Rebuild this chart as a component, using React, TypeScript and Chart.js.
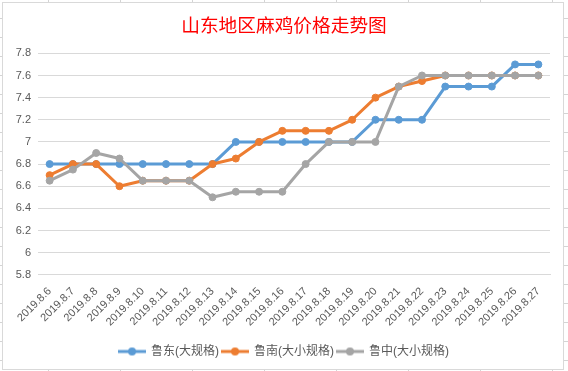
import React, { useEffect, useRef } from 'react';
import { Chart, registerables } from 'chart.js';

Chart.register(...registerables);

const chartTitle = '山东地区麻鸡价格走势图';
const dates = [
  '2019.8.6', '2019.8.7', '2019.8.8', '2019.8.9', '2019.8.10', '2019.8.11',
  '2019.8.12', '2019.8.13', '2019.8.14', '2019.8.15', '2019.8.16', '2019.8.17',
  '2019.8.18', '2019.8.19', '2019.8.20', '2019.8.21', '2019.8.22', '2019.8.23',
  '2019.8.24', '2019.8.25', '2019.8.26', '2019.8.27',
];
const seriesNames = ['鲁东(大规格)', '鲁南(大小规格)', '鲁中(大小规格)'];
const ludong = [6.8, 6.8, 6.8, 6.8, 6.8, 6.8, 6.8, 6.8, 7.0, 7.0, 7.0, 7.0, 7.0, 7.0, 7.2, 7.2, 7.2, 7.5, 7.5, 7.5, 7.7, 7.7];
const lunan = [6.7, 6.8, 6.8, 6.6, 6.65, 6.65, 6.65, 6.8, 6.85, 7.0, 7.1, 7.1, 7.1, 7.2, 7.4, 7.5, 7.55, 7.6, 7.6, 7.6, 7.6, 7.6];
const luzhong = [6.65, 6.75, 6.9, 6.85, 6.65, 6.65, 6.65, 6.5, 6.55, 6.55, 6.55, 6.8, 7.0, 7.0, 7.0, 7.5, 7.6, 7.6, 7.6, 7.6, 7.6, 7.6];
const yTickValues = [5.8, 6, 6.2, 6.4, 6.6, 6.8, 7, 7.2, 7.4, 7.6, 7.8];
const yTickLabels = ['5.8', '6', '6.2', '6.4', '6.6', '6.8', '7', '7.2', '7.4', '7.6', '7.8'];

const seriesColors = ['#5B9BD5', '#ED7D31', '#A5A5A5'];
const LATIN = "'Liberation Sans', 'Noto Sans CJK SC', sans-serif";
const CJK = "'Noto Sans CJK SC', 'Liberation Sans', sans-serif";
const TEXT = '#595959';

function legendImage(color: string): HTMLCanvasElement {
  const c = document.createElement('canvas');
  c.width = 28;
  c.height = 10;
  const ctx = c.getContext('2d')!;
  ctx.strokeStyle = color;
  ctx.lineWidth = 3;
  ctx.lineCap = 'butt';
  ctx.beginPath();
  ctx.moveTo(0, 5);
  ctx.lineTo(28, 5);
  ctx.stroke();
  ctx.fillStyle = color;
  ctx.beginPath();
  ctx.arc(14, 5, 4, 0, Math.PI * 2);
  ctx.fill();
  return c;
}

export default function App() {
  const ref = useRef<HTMLCanvasElement | null>(null);

  useEffect(() => {
    document.body.style.margin = '0';
    if (!ref.current) return;
    const values = [ludong, lunan, luzhong];
    const images = seriesColors.map(legendImage);
    const chart = new Chart(ref.current, {
      type: 'line',
      data: {
        labels: dates,
        datasets: values.map((v, i) => ({
          label: seriesNames[i],
          data: v,
          borderColor: seriesColors[i],
          backgroundColor: seriesColors[i],
          borderWidth: 3,
          pointRadius: 3.5,
          pointBorderWidth: 1,
          pointBackgroundColor: seriesColors[i],
          pointBorderColor: seriesColors[i],
          borderJoinStyle: 'round' as const,
          borderCapStyle: 'round' as const,
          tension: 0,
          order: 2 - i,
        })),
      },
      options: {
        responsive: false,
        animation: false,
        devicePixelRatio: 1,
        layout: { padding: { left: 0, right: 0, top: 0, bottom: 3.5 } },
        plugins: {
          title: {
            display: true,
            text: chartTitle,
            color: '#FF0000',
            font: { family: CJK, size: 18.7, weight: 'normal' },
            padding: { top: 13.4, bottom: 17.5 },
          },
          legend: {
            position: 'bottom',
            labels: {
              usePointStyle: true,
              pointStyleWidth: 26,
              padding: 3,
              color: TEXT,
              font: { family: LATIN, size: 12 },
              generateLabels: (c: any) =>
                c.data.datasets.map((ds: any, i: number) => ({
                  text: ds.label,
                  pointStyle: images[i],
                  fillStyle: seriesColors[i],
                  strokeStyle: seriesColors[i],
                  lineWidth: 0,
                  hidden: false,
                  datasetIndex: i,
                  fontColor: TEXT,
                })),
            },
          },
          tooltip: { enabled: false },
        },
        scales: {
          x: {
            offset: true,
            grid: { display: false, drawTicks: false },
            border: { display: true, color: '#D9D9D9' },
            ticks: {
              autoSkip: false,
              minRotation: 45,
              maxRotation: 45,
              padding: 10,
              color: TEXT,
              font: { family: LATIN, size: 11 },
            },
            afterFit: (s: any) => {
              s.height = 67.7;
            },
          },
          y: {
            min: 5.8,
            max: 7.8,
            afterBuildTicks: (s: any) => {
              s.ticks = yTickValues.map((v) => ({ value: v }));
            },
            grid: { color: '#D9D9D9', drawTicks: false },
            border: { display: false },
            ticks: {
              padding: 7,
              color: TEXT,
              font: { family: LATIN, size: 11 },
              callback: (_v: any, idx: number) => yTickLabels[idx],
            },
            afterFit: (s: any) => {
              s.width = 38;
            },
          },
          yRight: {
            type: 'linear',
            position: 'right',
            display: true,
            grid: { display: false, drawTicks: false },
            border: { display: false },
            ticks: { display: false },
            afterFit: (s: any) => {
              s.width = 18;
            },
          },
        },
      } as any,
    });
    return () => chart.destroy();
  }, []);

  return (
    <div
      style={{
        position: 'absolute',
        left: 0,
        top: 0,
        width: 568,
        height: 371,
        overflow: 'hidden',
        backgroundColor: '#ffffff',
        backgroundImage:
          'linear-gradient(to right, #D4D4D4 1px, transparent 1px), linear-gradient(to bottom, #D4D4D4 1px, transparent 1px)',
        backgroundSize: '72px 100%, 100% 19px',
        backgroundPosition: '48px 0, 0 18px',
      }}
    >
      <div
        style={{
          position: 'absolute',
          left: 2,
          top: 2,
          width: 562,
          height: 368,
          boxSizing: 'border-box',
          border: '1px solid #D9D9D9',
          background: '#ffffff',
        }}
      />
      <canvas
        ref={ref}
        width={568}
        height={371}
        style={{ position: 'absolute', left: 0, top: 0, width: 568, height: 371 }}
      />
    </div>
  );
}
